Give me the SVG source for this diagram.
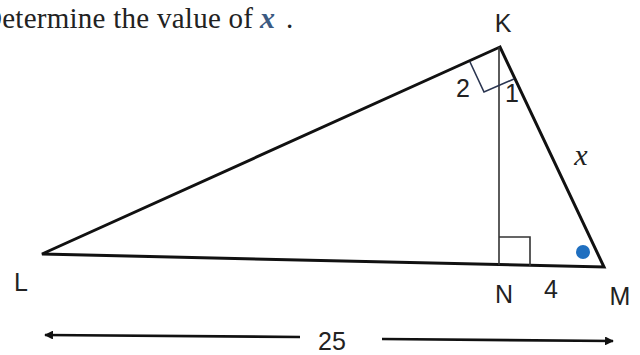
<svg xmlns="http://www.w3.org/2000/svg" width="640" height="355" viewBox="0 0 640 355">
<style>
.lbl{font-family:"Liberation Sans","DejaVu Sans",sans-serif;font-size:25px;fill:#222;}
.side{stroke:#111;stroke-width:3;fill:none;stroke-linejoin:miter;}
.thin{stroke:#333;stroke-width:1.6;fill:none;}
.mark{stroke:#2a3550;stroke-width:1.6;fill:none;}
.dim{stroke:#111;stroke-width:2.6;fill:none;}
</style>
<defs>
<marker id="ah" viewBox="0 0 10 10" refX="9" refY="5" markerWidth="3.6" markerHeight="3.4" orient="auto-start-reverse" markerUnits="strokeWidth">
<path d="M0,0 L10,5 L0,10 z" fill="#111"/>
</marker>
</defs>
<rect width="640" height="355" fill="#fff"/>
<text x="-19" y="28" font-family="'Liberation Serif','Times New Roman',serif" font-size="29" fill="#222" textLength="272" lengthAdjust="spacing">Determine the value of</text>
<text x="260" y="28" font-family="'Liberation Serif',serif" font-size="30" font-style="italic" font-weight="bold" fill="#3c5a82">x</text>
<text x="286" y="28" font-family="'Liberation Serif',serif" font-size="29" fill="#222">.</text>

<g id="triangle">
<polygon class="side" points="500,47 42,254 604,267"/>
</g>
<g id="altitude">
<line class="thin" x1="499" y1="47" x2="499" y2="265"/>
</g>
<g id="marks">
<polyline class="mark" points="470,62 484,92 514,79"/>
<polyline class="thin" points="499,237 530,237 530,266"/>
<circle cx="583" cy="252" r="7" fill="#1f6fc0"/>
</g>
<g id="connectors">
<line class="dim" x1="45" y1="335" x2="300" y2="337" marker-start="url(#ah)"/>
<line class="dim" x1="382" y1="339" x2="613" y2="341" marker-end="url(#ah)"/>
</g>
<g id="node-K"><text class="lbl" x="503" y="32" text-anchor="middle">K</text></g>
<g id="node-L"><text class="lbl" x="21" y="291" text-anchor="middle">L</text></g>
<g id="node-N"><text class="lbl" x="504" y="303" text-anchor="middle">N</text></g>
<g id="node-M"><text class="lbl" x="620" y="305" text-anchor="middle">M</text></g>
<text class="lbl" x="463" y="97" text-anchor="middle" font-size="17">2</text>
<text class="lbl" x="512" y="102" text-anchor="middle" font-size="17">1</text>
<text x="581" y="165" text-anchor="middle" font-family="'Liberation Serif',serif" font-style="italic" font-size="30" fill="#222">x</text>
<text class="lbl" x="551" y="298" text-anchor="middle">4</text>
<text class="lbl" x="332" y="350" text-anchor="middle" font-size="32">25</text>
</svg>
